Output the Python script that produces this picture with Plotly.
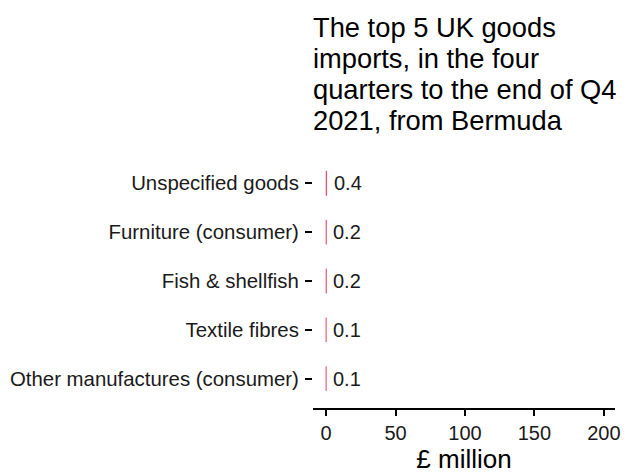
import plotly.graph_objects as go

categories = ["Unspecified goods", "Furniture (consumer)", "Fish & shellfish",
              "Textile fibres", "Other manufactures (consumer)"]
values = [0.4, 0.2, 0.2, 0.1, 0.1]
value_labels = ["0.4", "0.2", "0.2", "0.1", "0.1"]
x_ticks = [0, 50, 100, 150, 200]
title_lines = ["The top 5 UK goods", "imports, in the four",
               "quarters to the end of Q4", "2021, from Bermuda"]

bar_color = "#E0304F"
FONT = "Liberation Sans"

fig = go.Figure()
fig.add_trace(go.Bar(
    x=values, y=categories, orientation="h",
    marker=dict(color=bar_color, line=dict(color=bar_color, width=0.5)),
    width=0.5, hoverinfo="x+y",
))

for v, c, t in zip(values, categories, value_labels):
    fig.add_annotation(x=v, y=c, text=t, showarrow=False, xanchor="left",
                       xshift=5, font=dict(size=20, color="#1a1a1a", family=FONT))

# title lines (page has an 8px body margin, positions compensate)
title_y = [1.4976, 1.3756, 1.2535, 1.1315]
for line, yy in zip(title_lines, title_y):
    fig.add_annotation(x=0, y=yy, xref="paper", yref="paper", text=line,
                       showarrow=False, xanchor="left", yanchor="middle",
                       xshift=-2, font=dict(size=27.3, color="black", family=FONT))

fig.update_layout(
    width=641, height=472,
    margin=dict(l=305, r=34, t=146, b=72, autoexpand=False),
    plot_bgcolor="white", paper_bgcolor="white",
    showlegend=False,
    font=dict(family=FONT, color="black"),
    xaxis=dict(
        range=[-9.4, 208], tickvals=x_ticks, ticktext=[str(t) for t in x_ticks],
        showgrid=False, zeroline=False, showline=True, linecolor="black", linewidth=2,
        ticks="outside", ticklen=6, tickwidth=2, tickcolor="black",
        tickfont=dict(size=20, color="#1a1a1a"), automargin=False,
        title=dict(text="£ million", font=dict(size=26, color="black"), standoff=2),
    ),
    yaxis=dict(
        categoryorder="array", categoryarray=categories[::-1],
        range=[-0.6, 4.6], showgrid=False, zeroline=False, showline=False,
        ticks="outside", ticklen=7, tickwidth=2, tickcolor="black",
        tickfont=dict(size=20.4, color="#1a1a1a"), automargin=False,
        ticklabelstandoff=2,
    ),
)

fig.write_html("out.html")
